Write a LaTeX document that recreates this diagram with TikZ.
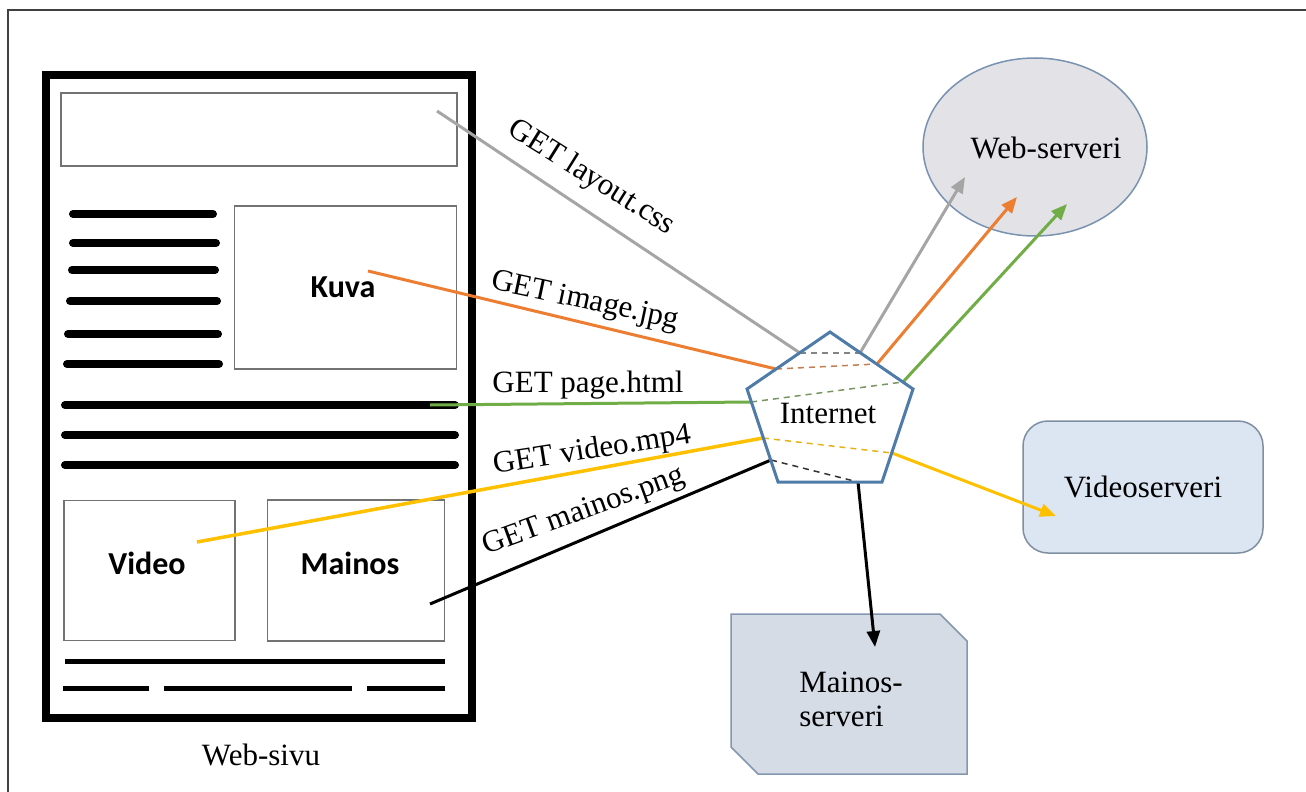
\documentclass[tikz,border=0pt]{standalone}
\usepackage{fontspec}
\setmainfont{Liberation Serif}
\newfontfamily\calfont{Carlito}
\usetikzlibrary{arrows.meta,shapes.geometric,calc}
\definecolor{cgray}{HTML}{A5A5A5}
\definecolor{corange}{HTML}{ED7D31}
\definecolor{cgreen}{HTML}{70AD47}
\definecolor{cyellow}{HTML}{FFC000}
\definecolor{pentblue}{HTML}{4F7BA8}
\definecolor{ellfill}{HTML}{E2E2E7}
\definecolor{elldraw}{HTML}{7892B0}
\definecolor{vidfill}{HTML}{DCE6F2}
\definecolor{viddraw}{HTML}{7F8FA2}
\definecolor{adfill}{HTML}{D5DCE6}
\definecolor{addraw}{HTML}{8497B0}
\tikzset{
  serif/.style={font=\fontsize{31}{34}\selectfont},
  boldsans/.style={font=\calfont\bfseries\fontsize{32}{36}\selectfont},
  pagebox/.style={draw=black!55, line width=1.5pt, inner sep=0pt},
  txtline/.style={line width=8pt, line cap=round},
  thinline/.style={line width=5pt},
  conn/.style={line width=3pt},
  dashseg/.style={line width=1.5pt, dash pattern=on 6pt off 5pt},
  arr/.style={-{Triangle[length=16pt,width=13pt]}},
  lbl/.style={serif, inner sep=0pt}
}
\begin{document}
\begin{tikzpicture}[x=1pt,y=-1pt]
\useasboundingbox (0,0) rectangle (1306,792);
% outer frame
\draw[line width=2pt, black!75] (8,792) -- (8,10) -- (1306,10);

% web page
\node[draw, line width=8pt, minimum width=426pt, minimum height=643pt, inner sep=0pt] (page) at (259,396.5) {};
\node[pagebox, minimum width=396pt, minimum height=73pt] (hdr) at (259,129.5) {};
\node[pagebox, minimum width=222pt, minimum height=163pt] (kuvabox) at (345.5,287.5) {};
\node[boldsans] (kuva) at (343,287) {Kuva};
\node[pagebox, minimum width=171pt, minimum height=140pt] (videobox) at (149.5,570.5) {};
\node[boldsans] (video) at (147,563) {Video};
\node[pagebox, minimum width=177pt, minimum height=141pt] (mainosbox) at (356,570.5) {};
\node[boldsans] (mainos) at (350,563) {Mainos};
\node[serif] (websivu) at (261,755) {Web-sivu};

% text lines
\draw[txtline] (73,214) -- (213,214);
\draw[txtline] (73,243) -- (216,243);
\draw[txtline] (72,270) -- (215,270);
\draw[txtline] (70,301) -- (217,301);
\draw[txtline] (68,334) -- (218,334);
\draw[txtline] (67,364) -- (219,364);
\draw[txtline] (65,405) -- (455,405);
\draw[txtline] (65,435) -- (455,435);
\draw[txtline] (65,465) -- (455,465);
\draw[thinline] (65,661) -- (445,661);
\draw[thinline] (63,688) -- (149,688);
\draw[thinline] (164,688) -- (352,688);
\draw[thinline] (367,688) -- (445,688);

% servers
\node[ellipse, draw=elldraw, fill=ellfill, line width=1.5pt, minimum width=224pt, minimum height=178pt, inner sep=0pt] (websrv) at (1035,147) {};
\node[serif] (websrvtxt) at (1046,148) {Web-serveri};
\node[draw=viddraw, fill=vidfill, line width=1.5pt, rounded corners=25pt, minimum width=240pt, minimum height=132pt, serif] (vidsrv) at (1143,487) {Videoserveri};
\draw[draw=addraw, fill=adfill, line width=1.5pt] (731,614) -- (940,614) -- (967,641) -- (967,774) -- (758,774) -- (731,747) -- cycle;
\node[serif, align=left] (adsrv) at (851,699) {Mainos-\\serveri};

% connector points
\coordinate (cssA) at (437,111);
\coordinate (cssB) at (800,353);
\coordinate (cssC) at (860,353);
\coordinate (cssD) at (965,177);
\coordinate (imgA) at (368,271);
\coordinate (imgB) at (776,369);
\coordinate (imgC) at (877,364);
\coordinate (imgD) at (1017,197);
\coordinate (pagA) at (430,405);
\coordinate (pagB) at (751,402);
\coordinate (pagC) at (903,382);
\coordinate (pagD) at (1067,204);
\coordinate (vidA) at (197,542);
\coordinate (vidB) at (763,438);
\coordinate (vidC) at (892,453);
\coordinate (vidD) at (1056,516);
\coordinate (adA) at (430,604);
\coordinate (adB) at (771,460);
\coordinate (adC) at (858,482);
\coordinate (adD) at (875,647);

\draw[conn, cgray] (cssA) -- (cssB);
\draw[dashseg, cgray!80!black] (cssB) -- (cssC);
\draw[conn, cgray, arr] (cssC) -- (cssD);

\draw[conn, corange] (imgA) -- (imgB);
\draw[dashseg, corange!60!gray] (imgB) -- (imgC);
\draw[conn, corange, arr] (imgC) -- (imgD);

\draw[conn, cgreen] (pagA) -- (pagB);
\draw[dashseg, cgreen!50!gray] (pagB) -- (pagC);
\draw[conn, cgreen, arr] (pagC) -- (pagD);

\draw[conn, cyellow, line width=3.5pt] (vidA) -- (vidB);
\draw[dashseg, cyellow!80!gray] (vidB) -- (vidC);
\draw[conn, cyellow, arr] (vidC) -- (vidD);

\draw[conn, black] (adA) -- (adB);
\draw[dashseg, black!80] (adB) -- (adC);
\draw[conn, black, arr] (adC) -- (adD);

% internet pentagon
\draw[pentblue, line width=3pt, line join=miter] (830,332) -- (913,389) -- (882,482) -- (778,482) -- (747,389) -- cycle;
\node[serif] (inet) at (828,413) {Internet};

% labels
\node[lbl, rotate=-32] (lcss) at (591,178) {GET layout.css};
\node[lbl, rotate=-12] (limg) at (585,302) {GET image.jpg};
\node[lbl] (lpag) at (588,385) {GET page.html};
\node[lbl, rotate=9] (lvid) at (592,451) {GET video.mp4};
\node[lbl, rotate=20] (lad) at (584,512) {GET mainos.png};
\end{tikzpicture}
\end{document}
